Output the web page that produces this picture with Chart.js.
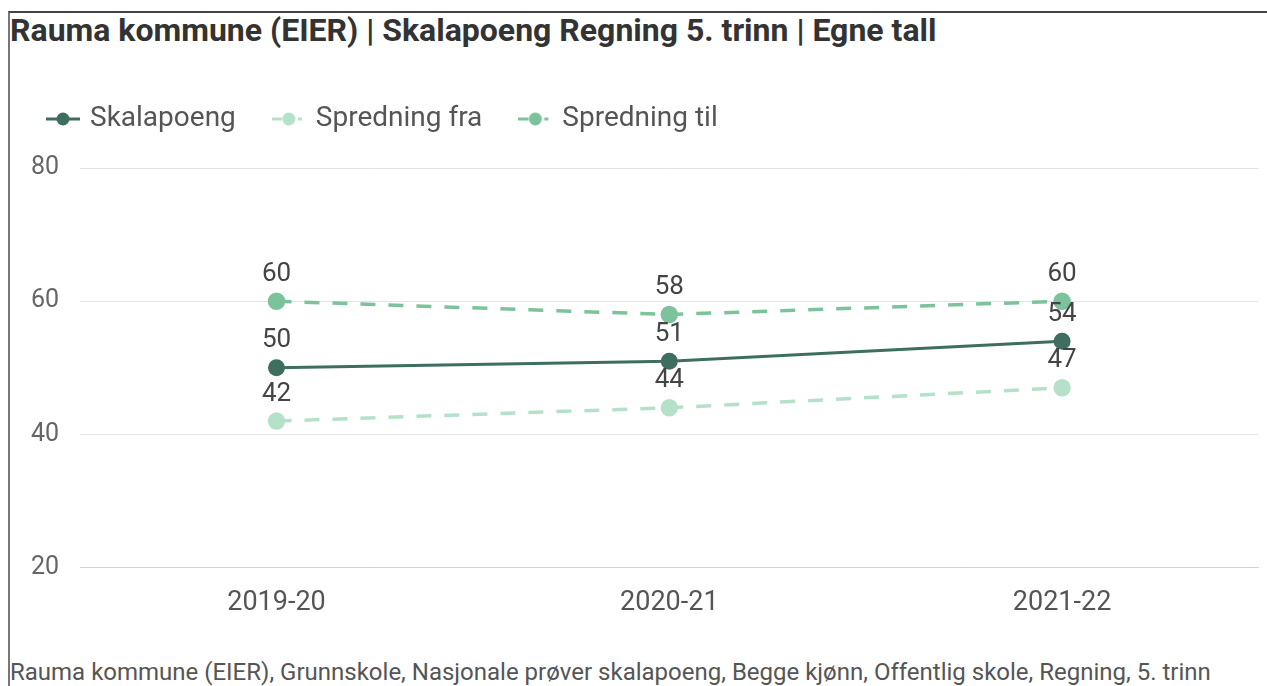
<!DOCTYPE html>
<html>
<head>
<meta charset="utf-8">
<script src="https://cdn.jsdelivr.net/npm/chart.js@4"></script>
<style>
  body { margin: 0; background: #fff; font-family: Roboto, sans-serif; }
  .frame { position: absolute; left: 8px; top: 11px; width: 1259px; height: 675px;
           border-top: 2px solid #444; border-left: 2px solid #777; }
  .title { position: absolute; left: 0px; top: -2px; font-size: 32px; font-weight: bold; color: #333; }
  .footer { position: absolute; left: 0px; top: 645px; font-size: 24px; color: #555; white-space: nowrap; }
  .wrap { position: absolute; left: 0px; top: 52px; width: 1259px; height: 565px; }
</style>
</head>
<body>
<div class="frame">
  <div class="title">Rauma kommune (EIER) | Skalapoeng Regning 5. trinn | Egne tall</div>
  <div class="wrap"><canvas id="chart"></canvas></div>
  <div class="footer">Rauma kommune (EIER), Grunnskole, Nasjonale prøver skalapoeng, Begge kjønn, Offentlig skole, Regning, 5. trinn</div>
</div>
<script>
const years = ["2019-20", "2020-21", "2021-22"]
const skalapoeng = [50, 51, 54]
const spredningFra = [42, 44, 47]
const spredningTil = [60, 58, 60]
const yTicks = [20, 40, 60, 80]

// little line + dot marker for the legend
function legendMarker(color, dashed) {
  const c = document.createElement("canvas")
  c.width = 34
  c.height = 16
  const g = c.getContext("2d")
  g.strokeStyle = color
  g.fillStyle = color
  g.lineWidth = 3
  if (dashed) {
    g.beginPath(); g.moveTo(0, 8); g.lineTo(10, 8); g.stroke()
    g.beginPath(); g.moveTo(26, 8); g.lineTo(30, 8); g.stroke()
  } else {
    g.beginPath(); g.moveTo(0, 8); g.lineTo(34, 8); g.stroke()
  }
  g.beginPath(); g.arc(17, 8, 6.5, 0, Math.PI * 2); g.fill()
  return c
}

const valueLabels = {
  id: "valueLabels",
  afterDatasetsDraw(chart) {
    const ctx = chart.ctx
    ctx.save()
    ctx.fillStyle = "#444"
    ctx.font = "26px Roboto"
    ctx.textAlign = "center"
    ctx.textBaseline = "middle"
    chart.data.datasets.forEach((ds, i) => {
      chart.getDatasetMeta(i).data.forEach((pt, j) => {
        ctx.fillText(ds.data[j], pt.x, pt.y - 27)
      })
    })
    ctx.restore()
  }
}

// extra room below the legend
const legendGap = {
  id: "legendGap",
  beforeInit(chart) {
    const fit = chart.legend.fit
    chart.legend.fit = function () {
      fit.bind(chart.legend)()
      this.height += 25
    }
  }
}

const dark = "#3e6e5f"
const light = "#b6e1c9"
const mid = "#7cc39c"
const markers = [legendMarker(dark, false), legendMarker(light, true), legendMarker(mid, true)]

new Chart(document.getElementById("chart"), {
  type: "line",
  data: {
    labels: years,
    datasets: [
      { label: "Skalapoeng", data: skalapoeng, borderColor: dark, backgroundColor: dark,
        borderWidth: 3 },
      { label: "Spredning fra", data: spredningFra, borderColor: light, backgroundColor: light,
        borderWidth: 3.5, borderDash: [15, 13] },
      { label: "Spredning til", data: spredningTil, borderColor: mid, backgroundColor: mid,
        borderWidth: 3.5, borderDash: [15, 13] },
    ],
  },
  options: {
    responsive: true,
    maintainAspectRatio: false,
    animation: false,
    elements: { point: { pointStyle: "circle", radius: 7, hoverRadius: 7 } },
    layout: { padding: 0 },
    plugins: {
      legend: {
        align: "start",
        labels: {
          usePointStyle: true,
          pointStyleWidth: 26,
          padding: 40,
          color: "#555",
          font: { size: 28, family: "Roboto" },
          generateLabels(chart) {
            const items = Chart.defaults.plugins.legend.labels.generateLabels(chart)
            items.forEach((it, i) => { it.pointStyle = markers[i] })
            return items
          },
        },
      },
      tooltip: { enabled: false },
    },
    scales: {
      y: {
        min: 20,
        max: 80,
        afterBuildTicks: (axis) => { axis.ticks = yTicks.map((v) => ({ value: v })) },
        grid: { color: "#e3e3e3", drawTicks: false },
        border: { display: false },
        ticks: { color: "#666", font: { size: 25, family: "Roboto" }, padding: 21 },
      },
      x: {
        offset: true,
        grid: { display: false },
        border: { color: "#c9d5e6" },
        ticks: { color: "#555", font: { size: 27, family: "Roboto" }, padding: 11 },
      },
    },
  },
  plugins: [valueLabels, legendGap],
})
</script>
</body>
</html>
